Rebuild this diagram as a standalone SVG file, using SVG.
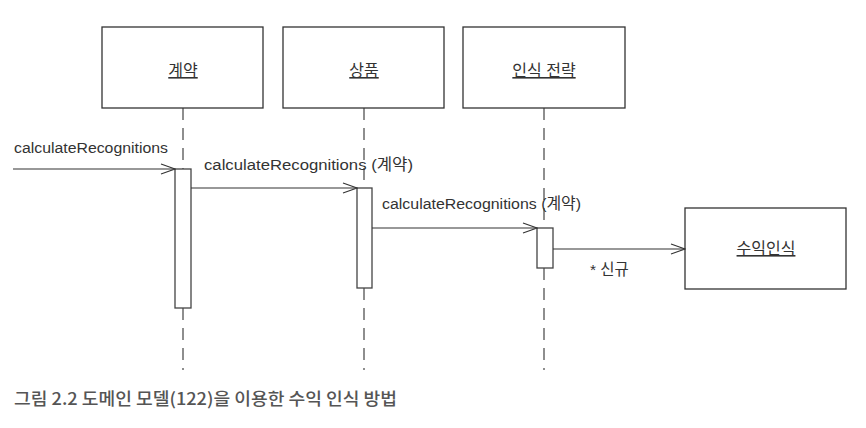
<svg xmlns="http://www.w3.org/2000/svg" width="866" height="428" viewBox="0 0 866 428">
<defs>
<style>
.box{fill:#fff;stroke:#333;stroke-width:1.3}
.act{fill:#fff;stroke:#444;stroke-width:1.3}
.life{stroke:#444;stroke-width:1.2;stroke-dasharray:12 8;fill:none}
.msg{stroke:#333;stroke-width:1.1;fill:none}
.lbl{font-family:"Liberation Sans","Noto Sans CJK KR",sans-serif;font-size:15.5px;fill:#333}
.name{font-family:"Liberation Sans","Noto Sans CJK KR",sans-serif;font-size:16px;fill:#333;text-decoration:underline;text-anchor:middle}
.cap{font-family:"Noto Sans CJK KR",sans-serif;font-size:17px;fill:#555;font-weight:500}
</style>
<marker id="open" markerWidth="16" markerHeight="12" refX="15" refY="6" orient="auto" markerUnits="userSpaceOnUse">
<path d="M1,1 L15,6 L1,11" fill="none" stroke="#333" stroke-width="1.1"/>
</marker>
</defs>
<rect width="866" height="428" fill="#fff"/>
<g id="lifelines">
<line class="life" x1="183" y1="108" x2="183" y2="370"/>
<line class="life" x1="364" y1="108" x2="364" y2="370"/>
<line class="life" x1="544" y1="108" x2="544" y2="370"/>
</g>
<g id="n-contract">
<rect class="box" x="102" y="27" width="161" height="81"/>
<text class="name" x="183" y="76">계약</text>
<rect class="act" x="175" y="169" width="16" height="139"/>
</g>
<g id="n-product">
<rect class="box" x="283" y="27" width="161" height="81"/>
<text class="name" x="364" y="76">상품</text>
<rect class="act" x="357" y="188" width="15" height="100"/>
</g>
<g id="n-strategy">
<rect class="box" x="463" y="27" width="162" height="81"/>
<text class="name" x="544" y="76">인식 전략</text>
<rect class="act" x="537" y="228" width="16" height="40"/>
</g>
<g id="n-revenue">
<rect class="box" x="685" y="208" width="161" height="81"/>
<text class="name" x="766" y="254">수익인식</text>
</g>
<g id="connectors">
<line class="msg" x1="13" y1="169" x2="175" y2="169" marker-end="url(#open)"/>
<line class="msg" x1="191" y1="188" x2="357" y2="188" marker-end="url(#open)"/>
<line class="msg" x1="372" y1="228" x2="537" y2="228" marker-end="url(#open)"/>
<line class="msg" x1="553" y1="249" x2="685" y2="249" marker-end="url(#open)"/>
<text class="lbl" x="14" y="153" textLength="154" lengthAdjust="spacingAndGlyphs">calculateRecognitions</text>
<text class="lbl" x="204" y="170" textLength="209" lengthAdjust="spacingAndGlyphs">calculateRecognitions (계약)</text>
<text class="lbl" x="382" y="209" textLength="199" lengthAdjust="spacingAndGlyphs">calculateRecognitions (계약)</text>
<text class="lbl" x="590" y="275">* 신규</text>
</g>
<text class="cap" x="14" y="405" textLength="383" lengthAdjust="spacingAndGlyphs">그림 2.2 도메인 모델(122)을 이용한 수익 인식 방법</text>
</svg>
